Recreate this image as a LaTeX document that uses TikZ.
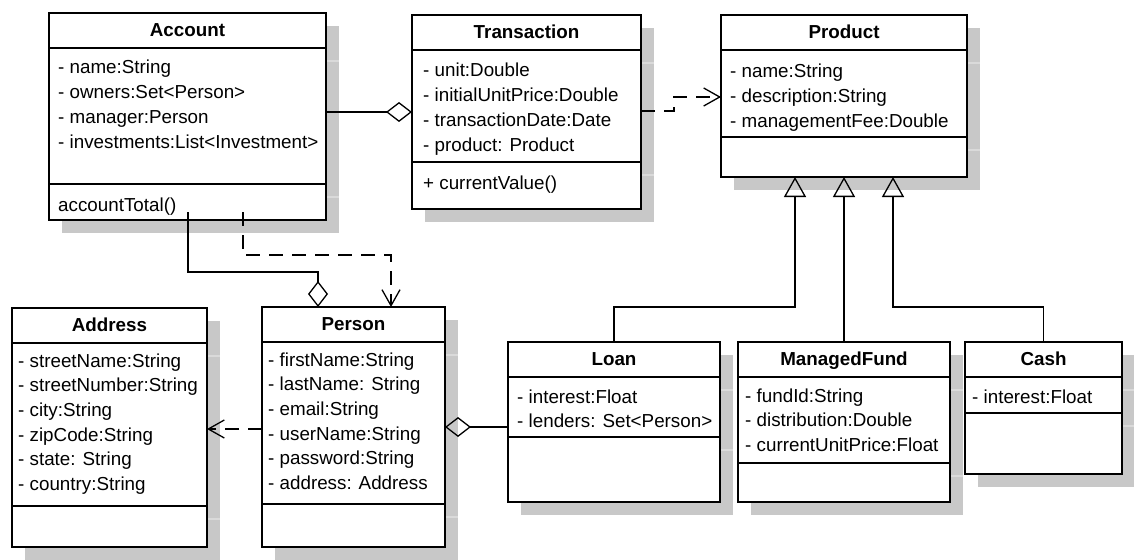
\documentclass[tikz,border=0pt]{standalone}
\usepackage{fontspec}
\setmainfont{Liberation Sans}
\usetikzlibrary{arrows.meta}
\definecolor{shadegray}{RGB}{200,200,200}
\definecolor{shadeline}{RGB}{218,218,218}
\tikzset{
  classbox/.style={draw, line width=2.6pt, fill=white, anchor=north west, inner sep=0pt, outer sep=0pt},
  divider/.style={line width=2.6pt},
  ctitle/.style={anchor=base, inner sep=0pt, font=\fontsize{18.8}{22}\selectfont\bfseries},
  attr/.style={anchor=base west, inner sep=0pt, font=\fontsize{18.8}{22}\selectfont},
  conn/.style={line width=1.3pt},
  depline/.style={conn, dash pattern=on 14pt off 9pt},
  aggtip/.tip={Diamond[open,length=26pt,width=20pt]},
  gentip/.tip={Triangle[open,length=20pt,width=22pt]},
  deptip/.tip={Straight Barb[length=16pt,width=18pt]}
}
\newcommand{\umlclass}[7]{%
  \fill[shadegray] (#2+13,#3+13) rectangle ++(#4,#5);
  \draw[shadeline, line width=1.5pt] (#2+13,#3+48) -- ++(#4,0);
  \draw[shadeline, line width=1.5pt] (#2+13,#3+13+#6) -- ++(#4,0);
  \node[classbox, minimum width=#4pt, minimum height=#5pt] (#1) at (#2,#3) {};
  \draw[divider] ([yshift=-35pt]#1.north west) -- ([yshift=-35pt]#1.north east);
  \draw[divider] ([yshift=-#6pt]#1.north west) -- ([yshift=-#6pt]#1.north east);
  \node[ctitle] (#1-title) at ([yshift=-23.5pt]#1.north) {#7};
}
\newcommand{\attrs}[4]{%
  \foreach \t [count=\i] in {#4}
    \node[attr] (#1-a\i) at ([xshift=#2pt,yshift={-(#3+(\i-1)*24.7)*1pt}]#1.north west) {\t};
}
\begin{document}
\begin{tikzpicture}[x=1pt,y=-1pt]
\useasboundingbox (0,0) rectangle (1134,559);

\umlclass{account}{49}{13}{277}{207}{171}{Account}
\attrs{account}{9}{61}{- name:String,- owners:Set<Person>,- manager:Person,- investments:List<Investment>}
\node[attr] (account-op1) at ([xshift=9pt,yshift=-198pt]account.north west) {accountTotal()};

\umlclass{trans}{412}{15}{229}{194}{147}{Transaction}
\attrs{trans}{11}{62}{- unit:Double,- initialUnitPrice:Double,- transactionDate:Date,- product: Product}
\node[attr] (trans-op1) at ([xshift=11pt,yshift=-174pt]trans.north west) {+ currentValue()};

\umlclass{product}{721}{15}{246}{162}{122}{Product}
\attrs{product}{9}{63}{- name:String,- description:String,- managementFee:Double}

\umlclass{address}{12}{308}{195}{239}{198}{Address}
\attrs{address}{6}{59}{- streetName:String,- streetNumber:String,- city:String,- zipCode:String,- state: String,- country:String}

\umlclass{person}{262}{307}{183}{240}{197}{Person}
\attrs{person}{6}{59}{- firstName:String,- lastName: String,- email:String,- userName:String,- password:String,- address: Address}

\umlclass{loan}{508}{342}{212}{160}{95}{Loan}
\attrs{loan}{9}{61}{- interest:Float,- lenders: Set<Person>}

\umlclass{mf}{738}{342}{212}{160}{121}{ManagedFund}
\attrs{mf}{7}{60}{- fundId:String,- distribution:Double,- currentUnitPrice:Float}

\umlclass{cash}{965}{342}{157}{132}{71}{Cash}
\attrs{cash}{7}{61}{- interest:Float}

% Account -> Transaction aggregation
\coordinate (c1) at ([yshift=-97pt]trans.north west);
\draw[conn, -{aggtip}] (c1 -| account.east) -- (c1);

% Transaction -> Product dependency
\coordinate (c2) at ([yshift=-82pt]product.north west);
\draw[depline, -{deptip}] ([yshift=-96pt]trans.north east) -- ++(33,0) |- (c2);

% Account -> Person dependency
\draw[depline, -{deptip}] ([xshift=194pt,yshift=8pt]account.south west) -- ++(0,43) -| ([xshift=129pt]person.north west);

% Account -> Person aggregation
\draw[conn, -{aggtip}] ([xshift=139pt,yshift=8pt]account.south west) -- ++(0,60) -| ([xshift=56pt]person.north west);

% Person -> Address dependency
\coordinate (c3) at ([yshift=-122pt]person.north west);
\draw[depline, -{deptip}] (c3) -- (c3 -| address.east);

% Loan -> Person aggregation
\coordinate (c4) at ([yshift=-120pt]person.north east);
\draw[conn, {aggtip}-] (c4) -- (c4 -| loan.west);

% Generalizations
\draw[conn, -{gentip}] (loan.north) -- ++(0,-35) -| ([xshift=-49pt]product.south);
\draw[conn, -{gentip}] (mf.north) -- (product.south);
\draw[conn, -{gentip}] (cash.north) -- ++(0,-35) -| ([xshift=49pt]product.south);
\end{tikzpicture}
\end{document}
